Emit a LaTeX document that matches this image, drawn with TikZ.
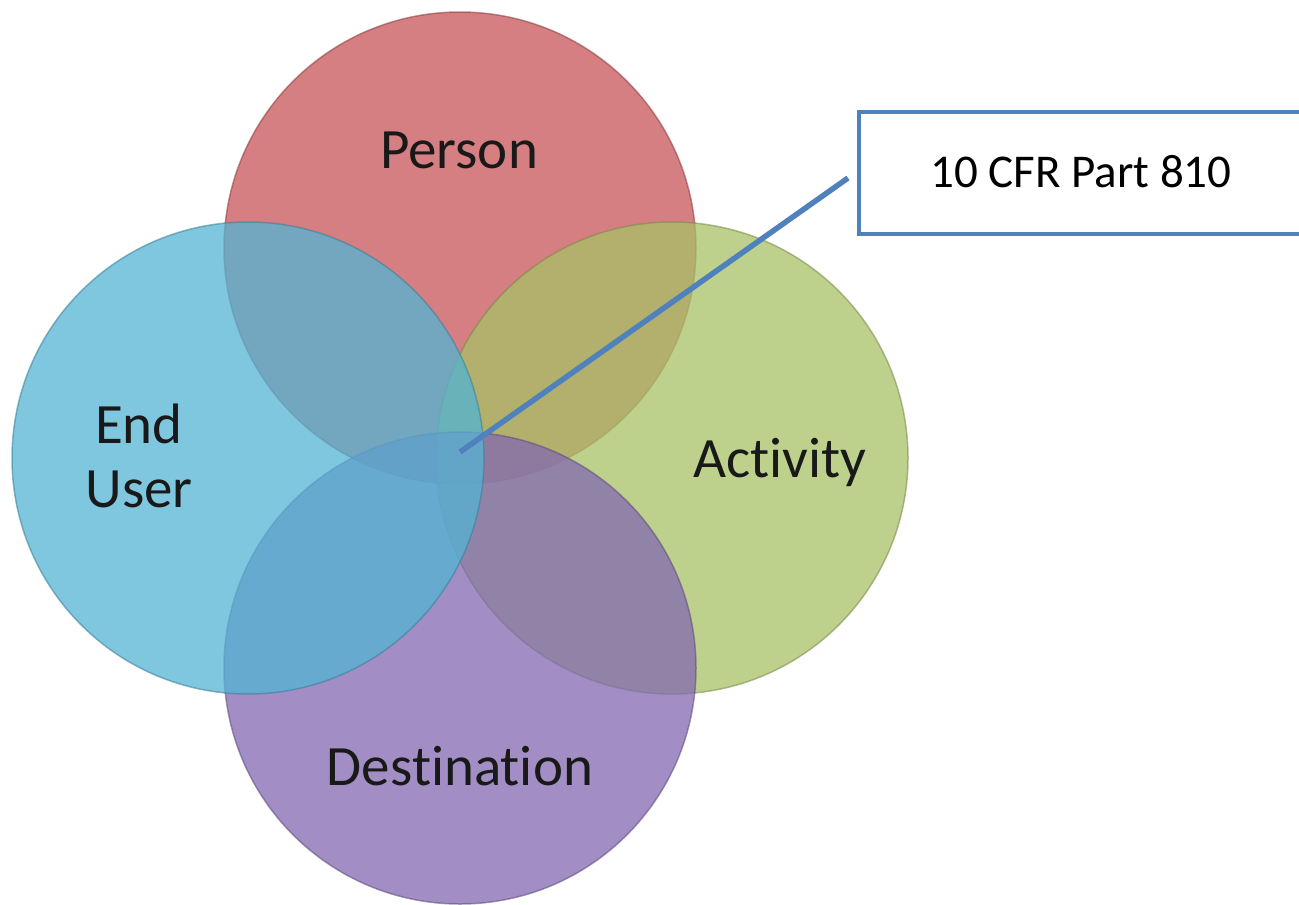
\documentclass[tikz,border=0pt]{standalone}
\usepackage{fontspec}
\setmainfont[Ligatures={NoCommon,NoRare},Contextuals=NoAlternate]{Carlito}
\newcommand{\tinolig}{t\kern0pt i}
\definecolor{redc}{RGB}{199,84,88}
\definecolor{bluec}{RGB}{83,180,212}
\definecolor{greenc}{RGB}{168,194,102}
\definecolor{purplec}{RGB}{131,104,176}
\definecolor{linec}{RGB}{79,129,189}
\begin{document}
\begin{tikzpicture}[x=1pt,y=-1pt,
  venn/.style={circle, minimum size=472pt, inner sep=0pt, fill opacity=0.75, draw opacity=0.55, line width=1.5pt},
  lbl/.style={anchor=base, font=\fontsize{57}{64}\selectfont, text=black!90},
  callout/.style={draw=linec, line width=4pt, fill=white, minimum width=480pt, minimum height=122pt, anchor=north west, inner sep=0pt},
  connector/.style={draw=linec, line width=5.5pt}]
\useasboundingbox (0,0) rectangle (1299,905);
\node[venn, fill=redc, draw=redc!70!black] (person) at (460,248) {};
\node[venn, fill=greenc, draw=greenc!70!black] (activity) at (672,458) {};
\node[venn, fill=purplec, draw=purplec!70!black] (destination) at (460,668) {};
\node[venn, fill=bluec, draw=bluec!70!black] (enduser) at (248,458) {};
\node[lbl] (tperson) at (459,168) {Person};
\node[lbl] (tend) at (139,443) {End};
\node[lbl] (tuser) at (139,507) {User};
\node[lbl] (tactivity) at (780,477) {Ac\tinolig vity};
\node[lbl] (tdest) at (460,785) {Des\tinolig na\tinolig on};
\coordinate (center) at (460,452);
\node[callout] (box) at (857,110) {};
\node[anchor=base, font=\fontsize{47}{56}\selectfont] (tbox) at (1081,187) {10 CFR Part 810};
\coordinate (boxend) at (848,178);
\draw[connector] (center) -- (boxend);
\end{tikzpicture}
\end{document}
